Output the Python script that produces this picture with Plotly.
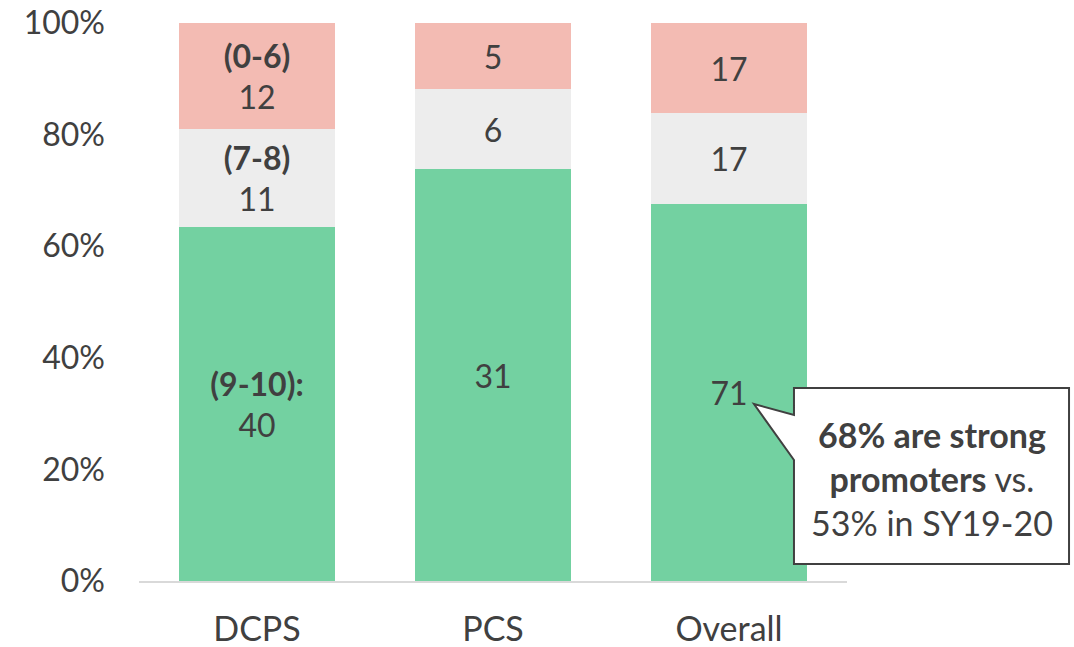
import plotly.graph_objects as go

categories = ["DCPS", "PCS", "Overall"]
promoters = [40, 31, 71]      # (9-10)
passives = [11, 6, 17]        # (7-8)
detractors = [12, 5, 17]      # (0-6)

promoter_labels = ["<b>(9-10):</b><br>40", "31", "71"]
passive_labels = ["<b>(7-8)</b><br>11", "6", "17"]
detractor_labels = ["<b>(0-6)</b><br>12", "5", "17"]

ytick_vals = [0, 20, 40, 60, 80, 100]
ytick_text = ["0%", "20%", "40%", "60%", "80%", "100%"]

FONT = "Lato"
TXT = "#404040"
C_GREEN = "#73D1A1"
C_GRAY = "#EDEDED"
C_PINK = "#F3BBB3"

fig = go.Figure()
for vals, labels, color in [
    (promoters, promoter_labels, C_GREEN),
    (passives, passive_labels, C_GRAY),
    (detractors, detractor_labels, C_PINK),
]:
    fig.add_trace(go.Bar(
        x=categories, y=vals, text=labels, texttemplate="%{text}",
        textposition="inside", insidetextanchor="middle", textangle=0,
        constraintext="none",
        textfont=dict(family=FONT, size=32, color=TXT),
        marker=dict(color=color, line=dict(width=0)),
        width=0.665, hoverinfo="skip",
    ))

W, H = 1074, 647
# plot area in page pixels
L, R, T, B = 139, 847, 23, 581

def px(x):
    return (x - L) / (R - L)

def py(y):
    return (B - y) / (B - T)

box_l, box_t, box_r, box_b = 794, 388, 1069, 564
tip = (754, 404)
pts = [(box_l, box_t), (box_r, box_t), (box_r, box_b), (box_l, box_b),
       (box_l, 460), tip, (box_l, 415)]
path = "M " + " L ".join(f"{px(x):.4f},{py(y):.4f}" for x, y in pts) + " Z"

fig.add_shape(type="path", path=path, xref="paper", yref="paper",
              fillcolor="white", line=dict(color="#404040", width=2), layer="above")
fig.add_annotation(
    x=px((box_l + box_r) / 2), y=py((box_t + box_b) / 2 + 2),
    xref="paper", yref="paper", showarrow=False,
    text="<b>68% are strong</b><br><b>promoters</b> vs.<br>53% in SY19-20",
    font=dict(family=FONT, size=34, color=TXT), align="center",
    xanchor="center", yanchor="middle",
)

fig.update_layout(
    barmode="stack", barnorm="percent",
    width=W, height=H,
    margin=dict(l=L, r=W - R, t=T, b=H - B),
    paper_bgcolor="white", plot_bgcolor="white",
    showlegend=False,
    font=dict(family=FONT, color=TXT),
)
fig.update_xaxes(
    showgrid=False, showline=True, linecolor="#D9D9D9", linewidth=2,
    ticks="", tickfont=dict(family=FONT, size=34, color=TXT),
    ticklabelstandoff=17, automargin=False, ticklabeloverflow="allow",
)
fig.update_yaxes(
    range=[0, 100], showgrid=False, showline=False, zeroline=False,
    tickvals=ytick_vals, ticktext=ytick_text, ticks="",
    tickfont=dict(family=FONT, size=32, color=TXT),
    ticklabelstandoff=33, automargin=False, ticklabeloverflow="allow",
)

fig.write_html(
    "out.html",
    config={"displayModeBar": False},
    post_script="document.body.style.margin='0';document.body.style.overflow='hidden';",
)
